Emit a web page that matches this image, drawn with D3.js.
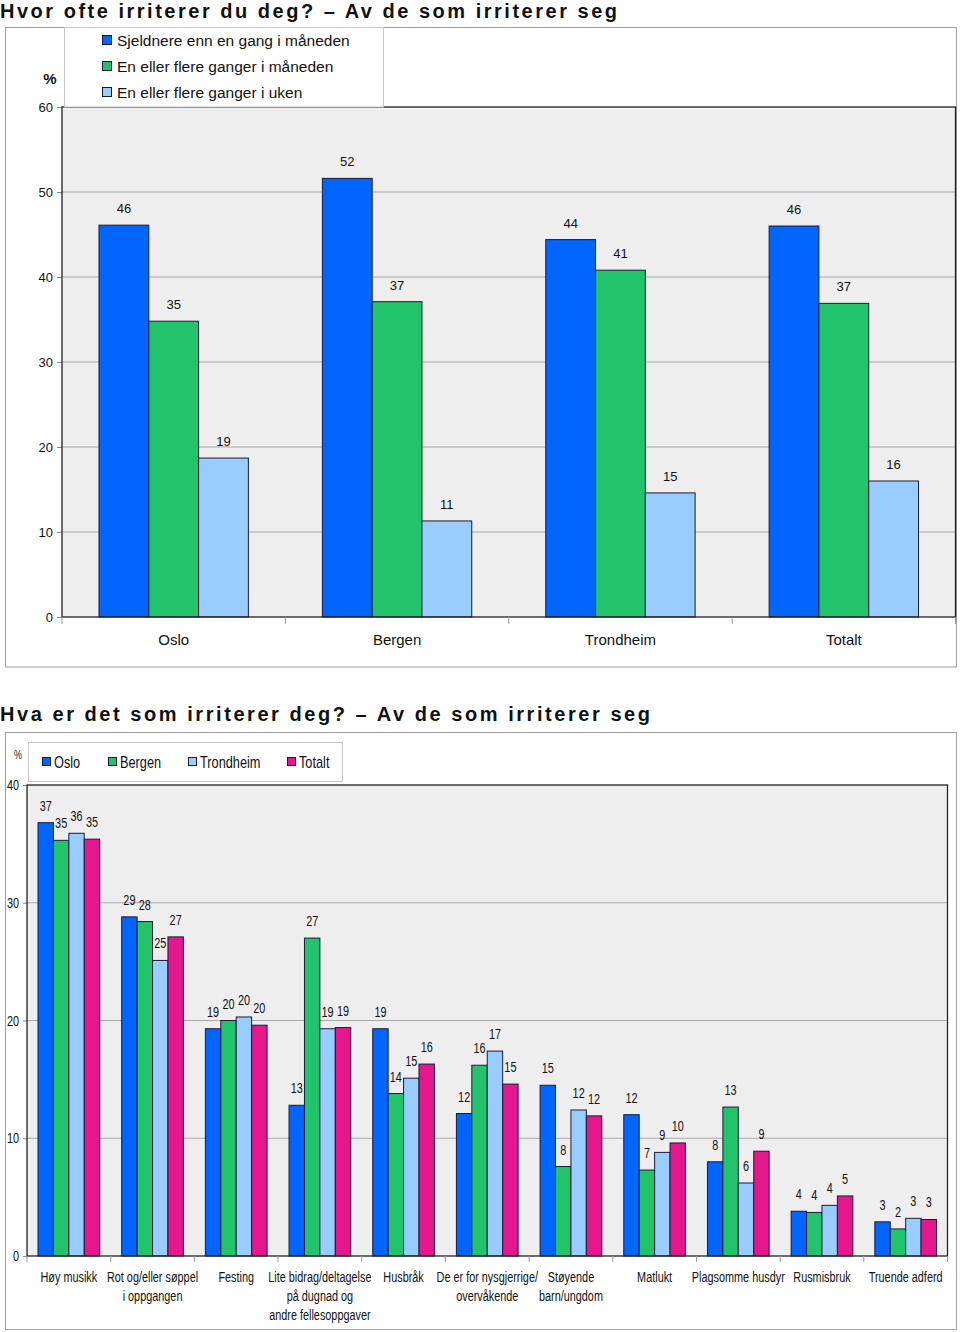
<!DOCTYPE html>
<html><head><meta charset="utf-8">
<script src="https://cdn.jsdelivr.net/npm/d3@7"></script>
<style>
body{margin:0;background:#fff;}
svg text{font-family:"Liberation Sans",Arial,sans-serif;fill:#111;}
</style></head>
<body>
<svg id="c" width="960" height="1332"></svg>
<script>
// ---------- DATA: chart 1 ----------
const title1 = "Hvor ofte irriterer du deg? – Av de som irriterer seg";
const cities = ["Oslo", "Bergen", "Trondheim", "Totalt"];
const freqSeries = ["Sjeldnere enn en gang i måneden", "En eller flere ganger i måneden", "En eller flere ganger i uken"];
const freqSjeldnere = [46.1, 51.6, 44.4, 46.0];
const freqManed = [34.8, 37.1, 40.8, 36.9];
const freqUke = [18.7, 11.3, 14.6, 16.0];
const yTicks1 = [0, 10, 20, 30, 40, 50, 60];

// ---------- DATA: chart 2 ----------
const title2 = "Hva er det som irriterer deg? – Av de som irriterer seg";
const causes = [
  ["Høy musikk"], ["Rot og/eller søppel", "i oppgangen"], ["Festing"],
  ["Lite bidrag/deltagelse", "på dugnad og", "andre fellesoppgaver"], ["Husbråk"],
  ["De er for nysgjerrige/", "overvåkende"], ["Støyende", "barn/ungdom"], ["Matlukt"],
  ["Plagsomme husdyr"], ["Rusmisbruk"], ["Truende adferd"]
];
const places = ["Oslo", "Bergen", "Trondheim", "Totalt"];
const valOslo      = [36.8, 28.8, 19.3, 12.8, 19.3, 12.1, 14.5, 12.0, 8.0, 3.8, 2.9];
const valBergen    = [35.3, 28.4, 20.0, 27.0, 13.8, 16.2, 7.6, 7.3, 12.65, 3.7, 2.3];
const valTrondheim = [35.9, 25.1, 20.3, 19.3, 15.1, 17.4, 12.4, 8.8, 6.2, 4.3, 3.2];
const valTotalt    = [35.4, 27.1, 19.6, 19.4, 16.3, 14.6, 11.9, 9.6, 8.9, 5.1, 3.1];
const yTicks2 = [0, 10, 20, 30, 40];

const colors = ["#0066ff", "#22c46b", "#99ccff", "#e6168c"];
const fmt = d3.format(".0f");
const svg = d3.select("#c");
const NARROW = 0.75;

// condensed text helper (Arial Narrow look)
function ntext(parent, x, y, lines, size, anchor, lh) {
  const t = parent.append("text")
    .attr("transform", `translate(${x},${y}) scale(${NARROW},1)`)
    .attr("font-size", size).attr("text-anchor", anchor || "start");
  if (!Array.isArray(lines)) lines = [lines];
  lines.forEach((ln, j) => t.append("tspan").attr("x", 0).attr("dy", j === 0 ? 0 : (lh || 19)).text(ln));
  return t;
}

// ================= CHART 1 =================
(function(){
  const series = [freqSjeldnere, freqManed, freqUke];
  svg.append("text").attr("x", 0).attr("y", 18)
    .attr("font-size", 20).attr("font-weight", "bold")
    .attr("textLength", 617).attr("lengthAdjust", "spacing").text(title1);
  svg.append("rect").attr("x", 5.5).attr("y", 27.5).attr("width", 951).attr("height", 639.5)
    .attr("fill", "#fff").attr("stroke", "#a0a0a0");
  const L = 62, R = 955.5, T = 107, B = 617;
  const y = d3.scaleLinear().domain([0, 60]).range([B, T]);
  const x = d3.scaleBand().domain(cities).range([L, R]);
  const xs = d3.scaleBand().domain(d3.range(series.length)).range([37, x.bandwidth() - 37]);

  svg.append("rect").attr("x", L).attr("y", T).attr("width", R - L).attr("height", B - T)
    .attr("fill", "#eeeeee");
  const g = svg.append("g");
  g.selectAll(".grid").data(yTicks1.filter(t => t > 0 && t < 60)).join("line")
    .attr("x1", L).attr("x2", R).attr("y1", d => y(d)).attr("y2", d => y(d))
    .attr("stroke", "#a8a8a8").attr("stroke-width", 1);
  const ya = svg.append("g").attr("transform", `translate(${L},0)`)
    .call(d3.axisLeft(y).tickValues(yTicks1).tickSize(5).tickPadding(4));
  ya.select(".domain").remove();
  ya.selectAll("line").attr("stroke", "#888");
  ya.selectAll("text").attr("font-size", 13).attr("fill", "#111");
  svg.append("text").attr("x", 50).attr("y", 84).attr("text-anchor", "middle")
    .attr("font-size", 15).attr("font-weight", "bold").text("%");
  cities.forEach((c, i) => {
    series.forEach((s, k) => {
      const bx = x(c) + xs(k);
      g.append("rect").attr("x", bx).attr("y", y(s[i])).attr("width", xs.bandwidth())
        .attr("height", B - y(s[i])).attr("fill", colors[k]).attr("stroke", "#1a1a3a").attr("stroke-width", 1);
      g.append("text").attr("x", bx + xs.bandwidth() / 2).attr("y", y(s[i]) - 12)
        .attr("text-anchor", "middle").attr("font-size", 13).text(fmt(s[i]));
    });
  });
  svg.append("rect").attr("x", L).attr("y", T).attr("width", R - L).attr("height", B - T)
    .attr("fill", "none").attr("stroke", "#222").attr("stroke-width", 1.3);
  const xa = svg.append("g").attr("transform", `translate(0,${B})`);
  xa.selectAll("line").data(d3.range(cities.length + 1)).join("line")
    .attr("x1", i => L + i * x.step()).attr("x2", i => L + i * x.step())
    .attr("y1", 0).attr("y2", 7).attr("stroke", "#999");
  xa.selectAll("text").data(cities).join("text")
    .attr("x", d => x(d) + x.bandwidth() / 2).attr("y", 28).attr("text-anchor", "middle")
    .attr("font-size", 15).text(d => d);
  svg.append("rect").attr("x", 64.5).attr("y", 27.5).attr("width", 319).attr("height", 79.5)
    .attr("fill", "#fff").attr("stroke", "#c8c8c8");
  freqSeries.forEach((name, k) => {
    const ly = 40 + k * 26;
    svg.append("rect").attr("x", 102.5).attr("y", ly - 4.5).attr("width", 9).attr("height", 9)
      .attr("fill", colors[k]).attr("stroke", "#1a1a3a");
    svg.append("text").attr("x", 117).attr("y", ly + 5.5).attr("font-size", 15.5).text(name);
  });
})();

// ================= CHART 2 =================
(function(){
  const series = [valOslo, valBergen, valTrondheim, valTotalt];
  svg.append("text").attr("x", 0).attr("y", 721)
    .attr("font-size", 20).attr("font-weight", "bold")
    .attr("textLength", 650).attr("lengthAdjust", "spacing").text(title2);
  svg.append("rect").attr("x", 5.5).attr("y", 732.5).attr("width", 951).attr("height", 597)
    .attr("fill", "#fff").attr("stroke", "#a0a0a0");
  const L = 27, R = 947.5, T = 785, B = 1256;
  const y = d3.scaleLinear().domain([0, 40]).range([B, T]);
  const x = d3.scaleBand().domain(d3.range(causes.length)).range([L, R]);
  const xs = d3.scaleBand().domain(d3.range(series.length)).range([11, x.bandwidth() - 11]);

  svg.append("rect").attr("x", L).attr("y", T).attr("width", R - L).attr("height", B - T)
    .attr("fill", "#eeeeee");
  const g = svg.append("g");
  g.selectAll(".grid").data(yTicks2.filter(t => t > 0 && t < 40)).join("line")
    .attr("x1", L).attr("x2", R).attr("y1", d => y(d)).attr("y2", d => y(d))
    .attr("stroke", "#a8a8a8").attr("stroke-width", 1);
  const ya = svg.append("g").attr("transform", `translate(${L},0)`)
    .call(d3.axisLeft(y).tickValues(yTicks2).tickSize(4).tickFormat(""));
  ya.select(".domain").remove();
  ya.selectAll("line").attr("stroke", "#888");
  yTicks2.forEach(t => ntext(svg, 19, y(t) + 5, String(t), 14.5, "end"));
  ntext(svg, 18, 759, "%", 12, "middle");
  causes.forEach((c, i) => {
    series.forEach((s, k) => {
      const bx = x(i) + xs(k);
      g.append("rect").attr("x", bx).attr("y", y(s[i])).attr("width", xs.bandwidth())
        .attr("height", B - y(s[i])).attr("fill", colors[k]).attr("stroke", "#1a1a3a").attr("stroke-width", 1);
      ntext(g, bx + xs.bandwidth() / 2, y(s[i]) - 12, fmt(s[i]), 14.5, "middle");
    });
  });
  svg.append("rect").attr("x", L).attr("y", T).attr("width", R - L).attr("height", B - T)
    .attr("fill", "none").attr("stroke", "#222").attr("stroke-width", 1.3);
  const xa = svg.append("g").attr("transform", `translate(0,${B})`);
  xa.selectAll("line").data(d3.range(causes.length + 1)).join("line")
    .attr("x1", i => L + i * x.step()).attr("x2", i => L + i * x.step())
    .attr("y1", 0).attr("y2", 6).attr("stroke", "#999");
  causes.forEach((lines, i) => ntext(xa, x(i) + x.bandwidth() / 2, 26, lines, 14.5, "middle", 19));
  svg.append("rect").attr("x", 28.5).attr("y", 742.5).attr("width", 314).attr("height", 39)
    .attr("fill", "#fff").attr("stroke", "#c8c8c8");
  const legX = [42, 108, 188, 287];
  places.forEach((p, k) => {
    svg.append("rect").attr("x", legX[k] + 0.5).attr("y", 757.5).attr("width", 8).attr("height", 8)
      .attr("fill", colors[k]).attr("stroke", "#1a1a3a");
    ntext(svg, legX[k] + 12, 767.5, p, 17, "start");
  });
})();
</script>
</body></html>
